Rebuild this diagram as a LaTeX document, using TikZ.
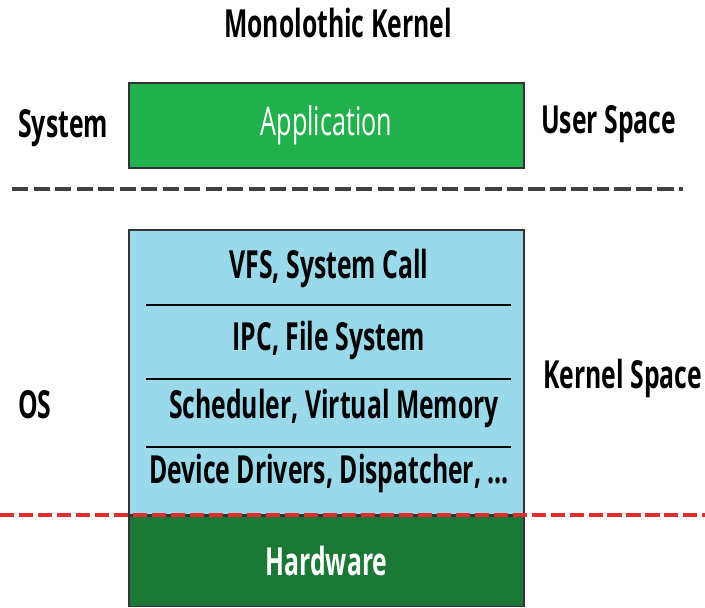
\documentclass[tikz,border=0pt]{standalone}
\usepackage{fontspec}
\setmainfont{Open Sans}[FakeStretch=0.64]
\usepackage{tikz}
\usetikzlibrary{positioning}

\definecolor{appgreen}{RGB}{34,177,76}
\definecolor{kernblue}{RGB}{153,217,234}
\definecolor{hwgreen}{RGB}{27,120,55}
\definecolor{splitred}{RGB}{228,45,45}

\tikzset{
	layerbox/.style={draw=black!80, line width=1pt, minimum width=9.875cm, inner sep=0pt},
	sidelabel/.style={font=\fontsize{27.5}{30}\selectfont\bfseries, inner sep=0pt},
	kernlabel/.style={font=\fontsize{27.5}{30}\selectfont\bfseries, inner sep=0pt},
	seprule/.style={line width=1.3pt, black}
}

\begin{document}
\begin{tikzpicture}[x=0.025cm, y=-0.025cm]
	\useasboundingbox (0,0) rectangle (705,607);

	% title
	\node (title) [sidelabel] at (338,23) {Monolothic Kernel};

	% user space
	\node (app) [layerbox, fill=appgreen, minimum height=2.125cm, text=white,
		font=\fontsize{28}{30}\selectfont] at (326.5,125.5) {Application};
	\node (sys) [sidelabel, anchor=west] at (18,128) {System};
	\node (user) [sidelabel, anchor=west] at (541,124) {User Space};

	\coordinate (ul) at (12,189);
	\coordinate (ur) at (683,189);
	\draw[line width=3pt, black!75, dash pattern=on 11.5pt off 3.8pt] (ul) -- (ur);

	% kernel space
	\node (kern) [layerbox, fill=kernblue, minimum height=7.125cm] at (326.5,372.5) {};
	\node (vfs) [kernlabel] at (329,268) {VFS, System Call};
	\node (ipc) [kernlabel] at (329,340) {IPC, File System};
	\node (sched) [kernlabel] at (334,408) {Scheduler, Virtual Memory};
	\node (dev) [kernlabel] at (329,473) {Device Drivers, Dispatcher, ...};
	\draw[seprule] ([xshift=0.45cm]kern.west |- 0,305) -- ([xshift=-0.35cm]kern.east |- 0,305);
	\draw[seprule] ([xshift=0.45cm]kern.west |- 0,379) -- ([xshift=-0.35cm]kern.east |- 0,379);
	\draw[seprule] ([xshift=0.45cm]kern.west |- 0,447) -- ([xshift=-0.35cm]kern.east |- 0,447);

	\node (os) [sidelabel, anchor=west] at (18,405) {OS};
	\node (kspace) [sidelabel, anchor=west] at (543,378) {Kernel Space};

	% hardware
	\node (hw) [layerbox, fill=hwgreen, minimum height=2.25cm, text=white,
		font=\fontsize{27.5}{30}\selectfont\bfseries, below=0pt of kern] {Hardware};

	\coordinate (rl) at (0,515);
	\coordinate (rr) at (705,515);
	\draw[line width=2.8pt, splitred, dash pattern=on 10pt off 3.5pt] (rl) -- (rr);
\end{tikzpicture}
\end{document}
